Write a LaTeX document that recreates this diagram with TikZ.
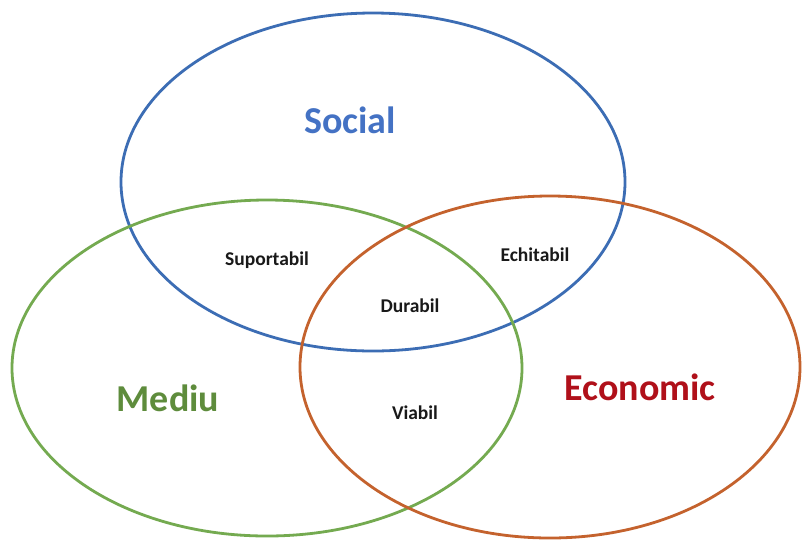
\documentclass[tikz,border=0pt]{standalone}
\usepackage{fontspec}
\setmainfont{Carlito}
\definecolor{socblue}{HTML}{3C6DB4}
\definecolor{medgreen}{HTML}{74AA50}
\definecolor{ecoorange}{HTML}{C4622D}
\definecolor{medtext}{HTML}{5E8C3C}
\definecolor{ecotext}{HTML}{B0101A}
\definecolor{soctext}{HTML}{4472C4}
\begin{document}
\begin{tikzpicture}[x=1pt,y=-1pt,
  ring/.style={line width=2.8pt},
  biglabel/.style={font=\fontsize{38}{40}\selectfont\bfseries, inner sep=0pt},
  smalllabel/.style={font=\fontsize{19.5}{22}\selectfont\bfseries, inner sep=0pt, text=black!90}]
\useasboundingbox (0,0) rectangle (802,539);
\fill[white] (0,0) rectangle (802,539);
\draw[ring, socblue] (373,182) ellipse [x radius=252, y radius=169];
\draw[ring, medgreen] (267,368) ellipse [x radius=255, y radius=168];
\draw[ring, ecoorange] (550,367) ellipse [x radius=250, y radius=171];
\node[biglabel, text=soctext] (social) at (350,120) {Social};
\node[biglabel, text=medtext] (mediu) at (168,398) {Mediu};
\node[biglabel, text=ecotext] (economic) at (640,387) {Economic};
\node[smalllabel] (suportabil) at (267,260) {Suportabil};
\node[smalllabel] (echitabil) at (535,255) {Echitabil};
\node[smalllabel] (durabil) at (410,306) {Durabil};
\node[smalllabel] (viabil) at (415,413) {Viabil};
\end{tikzpicture}
\end{document}
